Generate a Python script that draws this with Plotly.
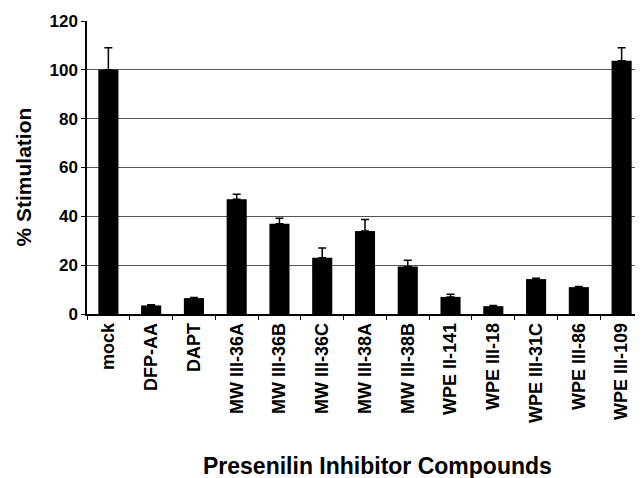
import plotly.graph_objects as go

categories = ["mock", "DFP-AA", "DAPT", "MW III-36A", "MW III-36B", "MW III-36C",
              "MW III-38A", "MW III-38B", "WPE II-141", "WPE III-18", "WPE III-31C",
              "WPE III-86", "WPE III-109"]
values = [100, 3.5, 6.5, 47, 37, 23, 34, 19.5, 7, 3.2, 14.3, 11, 103.7]
errors = [9, 0.3, 0.3, 2, 2.2, 4, 4.7, 2.5, 1.1, 0.3, 0.3, 0.3, 5.3]

fig = go.Figure(go.Bar(
    x=categories, y=values, width=0.47,
    marker=dict(color="black", line=dict(width=0)),
    error_y=dict(type="data", array=errors, arrayminus=[0]*len(errors), symmetric=False,
                 color="black", thickness=1.5, width=4),
))

font = "Liberation Sans, Arial, sans-serif"
fig.update_layout(
    width=635, height=470,
    margin=dict(l=79, r=0, t=13, b=164),
    plot_bgcolor="white", paper_bgcolor="white",
    showlegend=False,
    font=dict(family=font, color="black"),
    annotations=[
        dict(text="<b>Presenilin Inhibitor Compounds</b>", xref="paper", yref="paper",
             x=0.523, y=-0.519, xanchor="center", yanchor="middle", showarrow=False,
             font=dict(size=23, family=font, color="black")),
        dict(text="<b>% Stimulation</b>", xref="paper", yref="paper",
             x=-0.115, y=0.466, xanchor="center", yanchor="middle", showarrow=False,
             textangle=-90, font=dict(size=21, family=font, color="black")),
    ],
)
fig.update_xaxes(
    type="category", tickson="boundaries", ticks="outside", ticklen=4, tickcolor="black",
    tickangle=-90, tickfont=dict(size=18, family=font, weight="bold"),
    showline=True, linecolor="black", linewidth=1.5,
    automargin=False,
)
fig.update_yaxes(
    range=[0, 120], tickvals=[0, 20, 40, 60, 80, 100, 120], ticks="outside", ticklen=4,
    tickcolor="black", tickfont=dict(size=17, family=font, weight="bold"),
    showline=True, linecolor="black", linewidth=1.5,
    showgrid=True, gridcolor="#555555", gridwidth=1,
    zeroline=False,
    automargin=False,
)

fig.write_html("out.html")
